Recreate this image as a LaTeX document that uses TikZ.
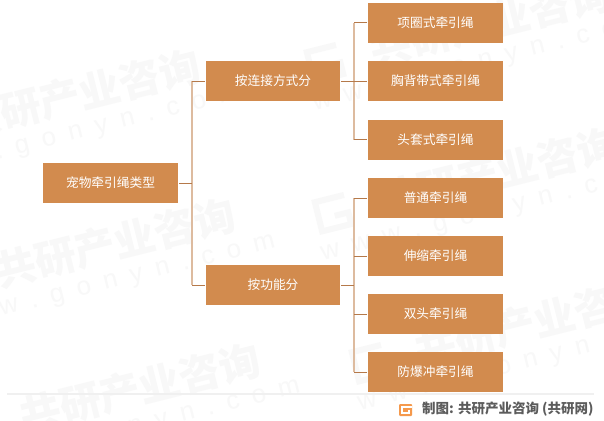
\documentclass[tikz,border=0pt]{standalone}
\usepackage{fontspec}
\setmainfont{Noto Sans CJK SC}
\newfontfamily\latinwm{Liberation Sans}
\definecolor{boxfill}{HTML}{D28B4E}
\definecolor{stubc}{HTML}{B5794A}
\definecolor{trunkc}{HTML}{DDBB9F}
\definecolor{wmc}{HTML}{F8F8F8}
\definecolor{footc}{HTML}{5C5C5C}
\definecolor{rulec}{HTML}{F0F0F0}
\definecolor{logoc}{HTML}{F5994C}
\tikzset{
  x=1pt,y=-1pt,
  itembox/.style={fill=boxfill,draw=none,minimum width=135pt,minimum height=40pt,inner sep=0pt,text=white,font=\fontsize{12.7}{14}\selectfont,anchor=center},
  midbox/.style={itembox,minimum width=134pt},
  stub/.style={draw=stubc,line width=1pt},
  trunk/.style={draw=trunkc,line width=1.6pt},
  wmcn/.style={text=wmc,font=\fontsize{41}{45}\selectfont\bfseries,rotate=14,inner sep=0pt},
  wmen/.style={text=wmc,font=\fontsize{26}{30}\selectfont\latinwm,rotate=14,inner sep=0pt},
}
\newcommand{\wmark}[3]{%
  \node[wmcn] (#1c) at (#2,#3) {共研产业咨询};
  \node[wmen,anchor=center] (#1e) at ([shift={(-8,42)}]#2,#3) {w\,\,\,w\,\,\,w\,\,\,.\,\,\,g\,\,\,o\,\,\,n\,\,\,y\,\,\,n\,\,\,.\,\,\,c\,\,\,o\,\,\,m};
  \draw[wmc,line width=6pt,rotate around={14:(#2,#3)}] ([shift={(-155,-15)}]#2,#3) -- ++(-30,0) -- ++(0,30) -- ++(30,0) -- ++(0,-12) -- ++(-14,0);
}
\begin{document}
\begin{tikzpicture}
\useasboundingbox (0,0) rectangle (604,420);
\fill[white] (0,0) rectangle (604,420);
% watermarks
\wmark{wa}{80}{94}
\wmark{wb}{490}{22}
\wmark{wc}{498}{172}
\wmark{wd}{115}{243}
\wmark{we}{140}{388}
\wmark{wf}{535}{322}
\coordinate (rl) at (7,394);
\coordinate (rr) at (594,394);
\draw[rulec,line width=1.5pt] (rl) -- (rr);
% boxes
\node[itembox] (root) at (110.5,183) {\raisebox{1.6pt}{宠物牵引绳类型}};
\node[midbox] (ga) at (273,81) {\raisebox{1.6pt}{按连接方式分}};
\node[midbox] (gb) at (273,285) {\raisebox{1.6pt}{按功能分}};
\node[itembox] (a1) at (435.5,23) {\raisebox{1.6pt}{项圈式牵引绳}};
\node[itembox] (a2) at (435.5,81) {\raisebox{1.6pt}{胸背带式牵引绳}};
\node[itembox] (a3) at (435.5,139.5) {\raisebox{1.6pt}{头套式牵引绳}};
\node[itembox] (b1) at (435.5,198) {\raisebox{1.6pt}{普通牵引绳}};
\node[itembox] (b2) at (435.5,256) {\raisebox{1.6pt}{伸缩牵引绳}};
\node[itembox] (b3) at (435.5,314) {\raisebox{1.6pt}{双头牵引绳}};
\node[itembox] (b4) at (435.5,372) {\raisebox{1.6pt}{防爆冲牵引绳}};
% connector junctions
\coordinate (j0) at (192,183);
\coordinate (j1) at (354,81);
\coordinate (j2) at (354,285);
\draw[trunk] (j0 |- ga) -- (j0 |- gb);
\draw[trunk] (j1 |- a1) -- (j1 |- a3);
\draw[trunk] (j2 |- b1) -- (j2 |- b4);
\draw[stub] (root.east) ++(1,0) -- (j0);
\draw[stub] (j0 |- ga) -- ([xshift=-1pt]ga.west);
\draw[stub] (j0 |- gb) -- ([xshift=-1pt]gb.west);
\draw[stub] (ga.east) ++(1,0) -- (j1);
\draw[stub] (gb.east) ++(1,0) -- (j2);
\foreach \n in {a1,a2,a3}{\draw[stub] (j1 |- \n) -- ([xshift=-1pt]\n.west);}
\foreach \n in {b1,b2,b3,b4}{\draw[stub] (j2 |- \n) -- ([xshift=-1pt]\n.west);}
% footer
\fill[logoc,rounded corners=1pt] (399,404) rectangle (412,416);
\draw[white,line width=1.3pt] (412,407) -- (402,407) -- (402,413) -- (409,413) -- (409,410);
\node[anchor=west,inner sep=0pt,text=footc,font=\fontsize{13.5}{15}\selectfont\bfseries] (foot) at (422,409.5) {制图: 共研产业咨询 (共研网)};
\end{tikzpicture}
\end{document}
